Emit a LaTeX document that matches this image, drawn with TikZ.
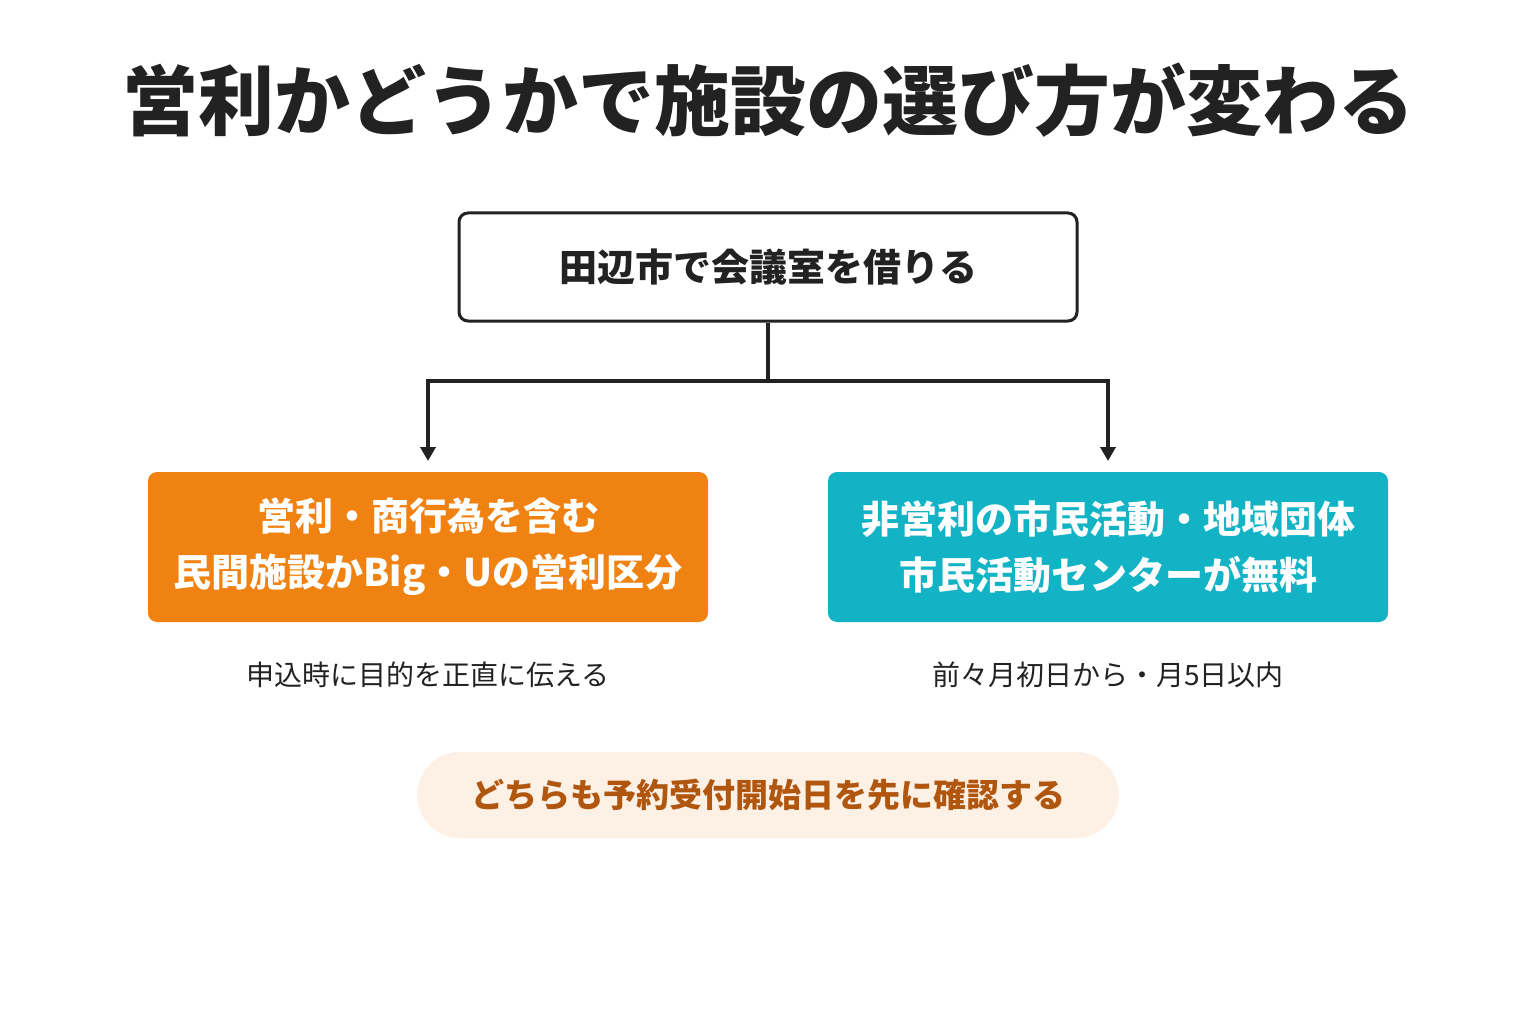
\documentclass[tikz,border=0pt]{standalone}
\usepackage{fontspec}
\setmainfont{Noto Sans CJK JP}
\usetikzlibrary{arrows.meta}
\definecolor{ink}{HTML}{222222}
\definecolor{orng}{HTML}{EF8210}
\definecolor{teal}{HTML}{13B3C6}
\definecolor{pill}{HTML}{FDF1E6}
\definecolor{pilltx}{HTML}{B0560F}
\begin{document}
\begin{tikzpicture}[x=1pt,y=-1pt,
  box/.style={rounded corners=9pt,inner sep=0pt,text=white,font=\fontsize{38}{56}\selectfont\bfseries,align=center,minimum width=560pt,minimum height=150pt},
  captxt/.style={text=ink,font=\fontsize{28}{34}\selectfont},
  conn/.style={draw=ink,line width=3.5pt},
  arr/.style={conn,-{Triangle[length=14pt,width=15pt]}}]
\useasboundingbox (0,0) rectangle (1536,1024);
\node[text=ink,font=\fontsize{76}{90}\selectfont\bfseries] (title) at (768,100) {営利かどうかで施設の選び方が変わる};
\node[draw=ink,line width=3pt,rounded corners=9pt,minimum width=618pt,minimum height=108pt,text=ink,font=\fontsize{38}{46}\selectfont\bfseries] (top) at (768,267) {田辺市で会議室を借りる};
\node[box,fill=orng] (left) at (428,547) {営利・商行為を含む\\民間施設かBig・Uの営利区分};
\node[box,fill=teal] (right) at (1108,547) {非営利の市民活動・地域団体\\市民活動センターが無料};
\node[captxt] (lc) at (428,675) {申込時に目的を正直に伝える};
\node[captxt] (rc) at (1108,675) {前々月初日から・月5日以内};
\node[fill=pill,rounded corners=43pt,minimum width=702pt,minimum height=86pt,text=pilltx,font=\fontsize{33}{40}\selectfont\bfseries] (note) at (768,795) {どちらも予約受付開始日を先に確認する};
\coordinate (j) at (768,381);
\coordinate (lt) at (428,461);
\coordinate (rt) at (1108,461);
\draw[conn] (top.south) -- (j);
\draw[arr] (j) -| (lt);
\draw[arr] (j) -| (rt);
\end{tikzpicture}
\end{document}
